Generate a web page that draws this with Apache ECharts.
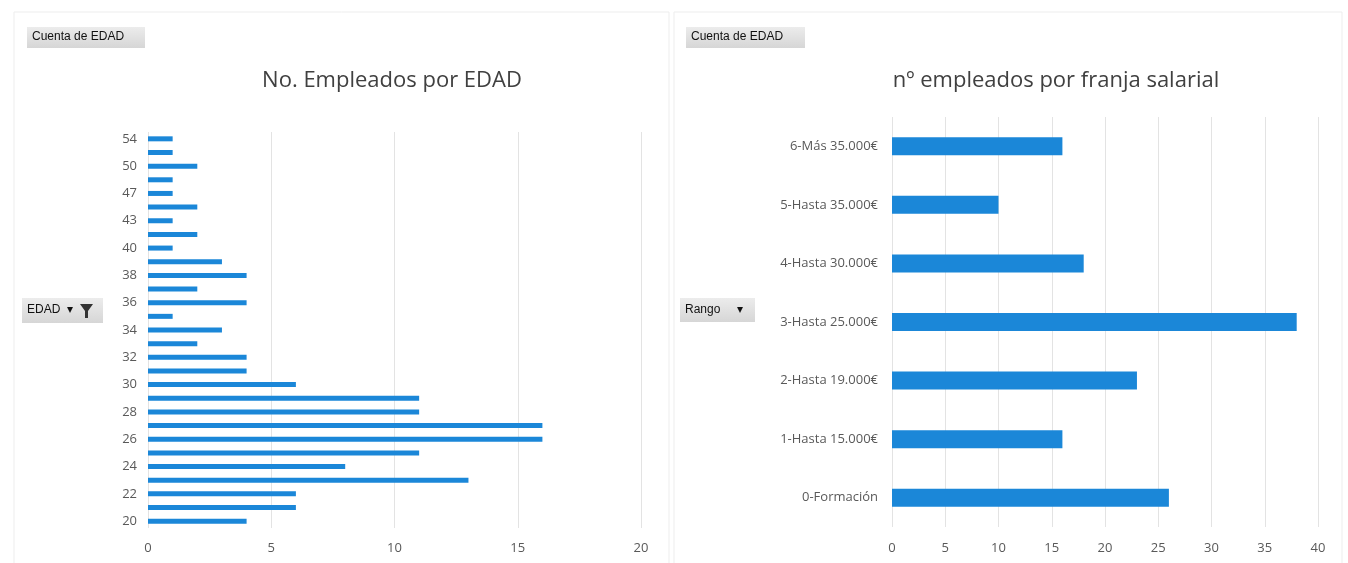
<!DOCTYPE html>
<html>
<head>
<meta charset="utf-8">
<script src="https://cdn.jsdelivr.net/npm/echarts@6/dist/echarts.min.js"></script>
<style>
  html, body { margin: 0; padding: 0; background: #fff; }
  #chart { width: 1348px; height: 563px; }
</style>
</head>
<body>
<div id="chart"></div>
<script>
// edades (eje vertical del grafico izquierdo)
const edadCats = ['20','21','22','23','24','25','26','27','28','29','30','31','32','33','34','35','36','37','38','39','40','41','43','45','47','48','50','52','54'];
const edadVals = [4,6,6,13,8,11,16,16,11,11,6,4,4,2,3,1,4,2,4,3,1,2,1,2,1,1,2,1,1];
const edadTicks = [0, 5, 10, 15, 20];

// franjas salariales (grafico derecho)
const rangoCats = ['0-Formación','1-Hasta 15.000€','2-Hasta 19.000€','3-Hasta 25.000€','4-Hasta 30.000€','5-Hasta 35.000€','6-Más 35.000€'];
const rangoVals = [26,16,23,38,18,10,16];
const rangoTicks = [0, 5, 10, 15, 20, 25, 30, 35, 40];

const font = '"Open Sans", "Noto Sans", sans-serif';
const btnFont = '"Liberation Sans Narrow", "Liberation Sans", sans-serif';
const blue = '#1b87d8';
const labelStyle = { color: '#595959', fontSize: 13, fontFamily: font };

// botones de tabla dinamica
function button(x, y, w, h, txt) {
  return {
    type: 'group', left: x, top: y,
    children: [
      { type: 'rect', shape: { x: 0, y: 0, width: w, height: h },
        style: { fill: new echarts.graphic.LinearGradient(0, 0, 0, 1, [
          { offset: 0, color: '#ececec' }, { offset: 1, color: '#d6d6d6' }]) } },
      { type: 'text', left: 5, top: (h - 13) / 2,
        style: { text: txt, fill: '#111', font: '12px ' + btnFont } }
    ]
  };
}

const chart = echarts.init(document.getElementById('chart'));
chart.setOption({
  animation: false,
  backgroundColor: '#fff',
  title: [
    { text: 'No. Empleados por EDAD', left: 387, top: 65, textAlign: 'center',
      textStyle: { color: '#404040', fontSize: 22, fontWeight: 'normal', fontFamily: font } },
    { text: 'nº empleados por franja salarial', left: 1051, top: 65, textAlign: 'center',
      textStyle: { color: '#404040', fontSize: 22, fontWeight: 'normal', fontFamily: font } }
  ],
  graphic: [
    { type: 'rect', shape: { x: 14, y: 12, width: 655, height: 552 },
      style: { fill: 'none', stroke: '#ededed', lineWidth: 1 } },
    { type: 'rect', shape: { x: 674, y: 12, width: 668, height: 552 },
      style: { fill: 'none', stroke: '#ededed', lineWidth: 1 } },
    button(27, 27, 118, 21, 'Cuenta de EDAD'),
    button(686, 27, 119, 21, 'Cuenta de EDAD'),
    button(22, 298, 81, 25, 'EDAD  ▾'),
    { type: 'polygon', shape: { points: [[80, 304], [93, 304], [88, 311], [88, 318], [85, 318], [85, 311]] },
      style: { fill: '#333' } },
    button(680, 298, 75, 24, 'Rango     ▾')
  ],
  grid: [
    { left: 148, right: 707, top: 132, bottom: 35 },
    { left: 892, right: 30, top: 117, bottom: 36 }
  ],
  xAxis: [
    { gridIndex: 0, type: 'value', min: edadTicks[0], max: edadTicks[edadTicks.length - 1], interval: 5,
      axisLine: { show: false }, axisTick: { show: false },
      axisLabel: Object.assign({ margin: 14 }, labelStyle),
      splitLine: { lineStyle: { color: '#e3e3e3' } } },
    { gridIndex: 1, type: 'value', min: rangoTicks[0], max: rangoTicks[rangoTicks.length - 1], interval: 5,
      axisLine: { show: false }, axisTick: { show: false },
      axisLabel: Object.assign({ margin: 15 }, labelStyle),
      splitLine: { lineStyle: { color: '#e3e3e3' } } }
  ],
  yAxis: [
    { gridIndex: 0, type: 'category', data: edadCats,
      axisLine: { show: false }, axisTick: { show: false },
      axisLabel: Object.assign({ interval: 1, margin: 11 }, labelStyle) },
    { gridIndex: 1, type: 'category', data: rangoCats,
      axisLine: { show: false }, axisTick: { show: false },
      axisLabel: Object.assign({ interval: 0, margin: 14 }, labelStyle) }
  ],
  series: [
    { type: 'bar', xAxisIndex: 0, yAxisIndex: 0, data: edadVals, barWidth: 5,
      itemStyle: { color: blue } },
    { type: 'bar', xAxisIndex: 1, yAxisIndex: 1, data: rangoVals, barWidth: 18,
      itemStyle: { color: blue } }
  ]
});
</script>
</body>
</html>
